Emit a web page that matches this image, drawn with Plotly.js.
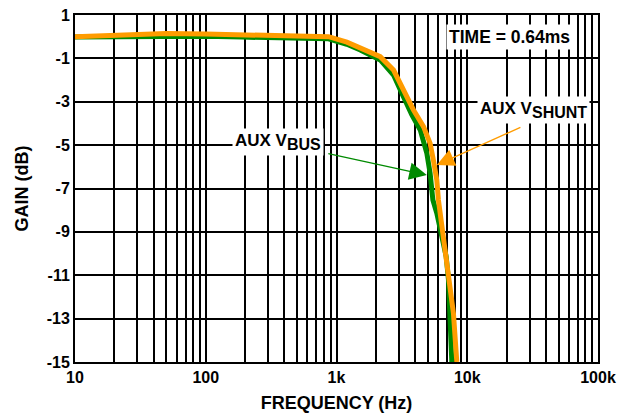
<!DOCTYPE html>
<html>
<head>
<meta charset="utf-8">
<script src="https://cdn.plot.ly/plotly-3.0.1.min.js"></script>
<style>html,body{margin:0;padding:0;background:#fff;}#chart{width:629px;height:418px;}</style>
</head>
<body>
<div id="chart"></div>
<script>
// Data
const shuntFreq = [10, 20, 50, 100, 190, 400, 620, 870, 1200, 1520, 1800, 2160, 2730, 3250, 3880, 4630, 5200, 5510, 5850, 6020, 6210, 6780, 7400, 7840, 8320];
const shuntGain = [0.0, 0.06, 0.15, 0.12, 0.08, 0.05, 0.03, 0.0, -0.25, -0.54, -0.7, -0.92, -1.54, -2.46, -3.38, -4.15, -4.92, -5.69, -6.61, -7.53, -8.14, -9.68, -11.2, -12.75, -15];
const busFreq = [10, 20, 50, 100, 190, 400, 620, 870, 1200, 1520, 2160, 2730, 3250, 3770, 4370, 4910, 5200, 5460, 5850, 6390, 6900, 7180, 7400, 7620];
const busGain = [-0.02, 0.0, 0.05, 0.02, -0.02, -0.05, -0.05, -0.1, -0.35, -0.61, -1.07, -1.77, -2.77, -3.61, -4.3, -5.38, -6.3, -7.53, -8.14, -9.37, -10.14, -11.2, -12.75, -15];

const xDecades = [10, 100, 1000, 10000, 100000];
const xDecadeLabels = ['10', '100', '1k', '10k', '100k'];
const yTicks = [1, -1, -3, -5, -7, -9, -11, -13, -15];
const yTickLabels = ['1', '-1', '-3', '-5', '-7', '-9', '-11', '-13', '-15'];

// x grid: every 1..9 multiple within each decade
const xTickVals = [];
const xTickText = [];
xDecades.forEach((d, i) => {
  if (i === xDecades.length - 1) { xTickVals.push(d); xTickText.push(xDecadeLabels[i]); return; }
  for (let m = 1; m <= 9; m++) {
    xTickVals.push(d * m);
    xTickText.push(m === 1 ? xDecadeLabels[i] : '');
  }
});

const FONT = 'Liberation Sans, Arial, sans-serif';
const ORANGE = '#FF9C00';
const GREEN = '#008A00';

const traces = [
  {x: busFreq, y: busGain, mode: 'lines', line: {color: GREEN, width: 5}, hoverinfo: 'skip'},
  {x: shuntFreq, y: shuntGain, mode: 'lines', line: {color: ORANGE, width: 5}, hoverinfo: 'skip'}
];

const layout = {
  width: 629, height: 418,
  margin: {l: 75, r: 31, t: 15, b: 56},
  paper_bgcolor: '#fff', plot_bgcolor: '#fff',
  showlegend: false,
  font: {family: FONT, color: '#000'},
  xaxis: {
    type: 'log', range: [1, 5],
    tickvals: xTickVals, ticktext: xTickText,
    showgrid: true, gridcolor: '#000', gridwidth: 2,
    showline: true, linecolor: '#000', linewidth: 2, mirror: true,
    ticks: '', zeroline: false,
    tickfont: {family: FONT, size: 16, color: '#000', weight: 'bold'},
    title: {text: '<b>FREQUENCY (Hz)</b>', font: {family: FONT, size: 18, color: '#000'}, standoff: 11}
  },
  yaxis: {
    range: [-15, 1],
    tickvals: yTicks, ticktext: yTickLabels,
    showgrid: true, gridcolor: '#000', gridwidth: 2,
    showline: true, linecolor: '#000', linewidth: 2, mirror: true,
    ticks: '', zeroline: false,
    tickfont: {family: FONT, size: 16, color: '#000', weight: 'bold'},
    title: {text: '<b>GAIN (dB)</b>', font: {family: FONT, size: 18, color: '#000'}, standoff: 13}
  },
  annotations: [
    {xref: 'x', yref: 'y', x: 4.321, y: -0.037, text: '<b>TIME = 0.64ms</b>', showarrow: false,
     bgcolor: '#fff', font: {family: FONT, size: 17.5, color: '#000'}, borderpad: 2},
    {xref: 'x', yref: 'y', x: 4.507, y: -3.403, text: '<b>AUX V<sub><span style="font-size:16px">SHUNT</span></sub></b>', showarrow: false,
     bgcolor: '#fff', font: {family: FONT, size: 17, color: '#000'}, borderpad: 2},
    {xref: 'x', yref: 'y', x: 2.549, y: -4.855, text: '<b>AUX V<sub><span style="font-size:16px">BUS</span></sub></b>', showarrow: false,
     bgcolor: '#fff', font: {family: FONT, size: 17, color: '#000'}, borderpad: 2},
    {xref: 'x', yref: 'y', x: 3.767, y: -5.916, axref: 'x', ayref: 'y', ax: 4.418, ay: -4.15,
     text: '', showarrow: true, arrowhead: 2, arrowsize: 2.7, arrowwidth: 1.3, arrowcolor: ORANGE, standoff: 0},
    {xref: 'x', yref: 'y', x: 3.691, y: -6.377, axref: 'x', ayref: 'y', ax: 2.926, ay: -5.376,
     text: '', showarrow: true, arrowhead: 2, arrowsize: 2.7, arrowwidth: 1.3, arrowcolor: GREEN, standoff: 0}
  ]
};

Plotly.newPlot('chart', traces, layout, {staticPlot: true, displayModeBar: false});
</script>
</body>
</html>
